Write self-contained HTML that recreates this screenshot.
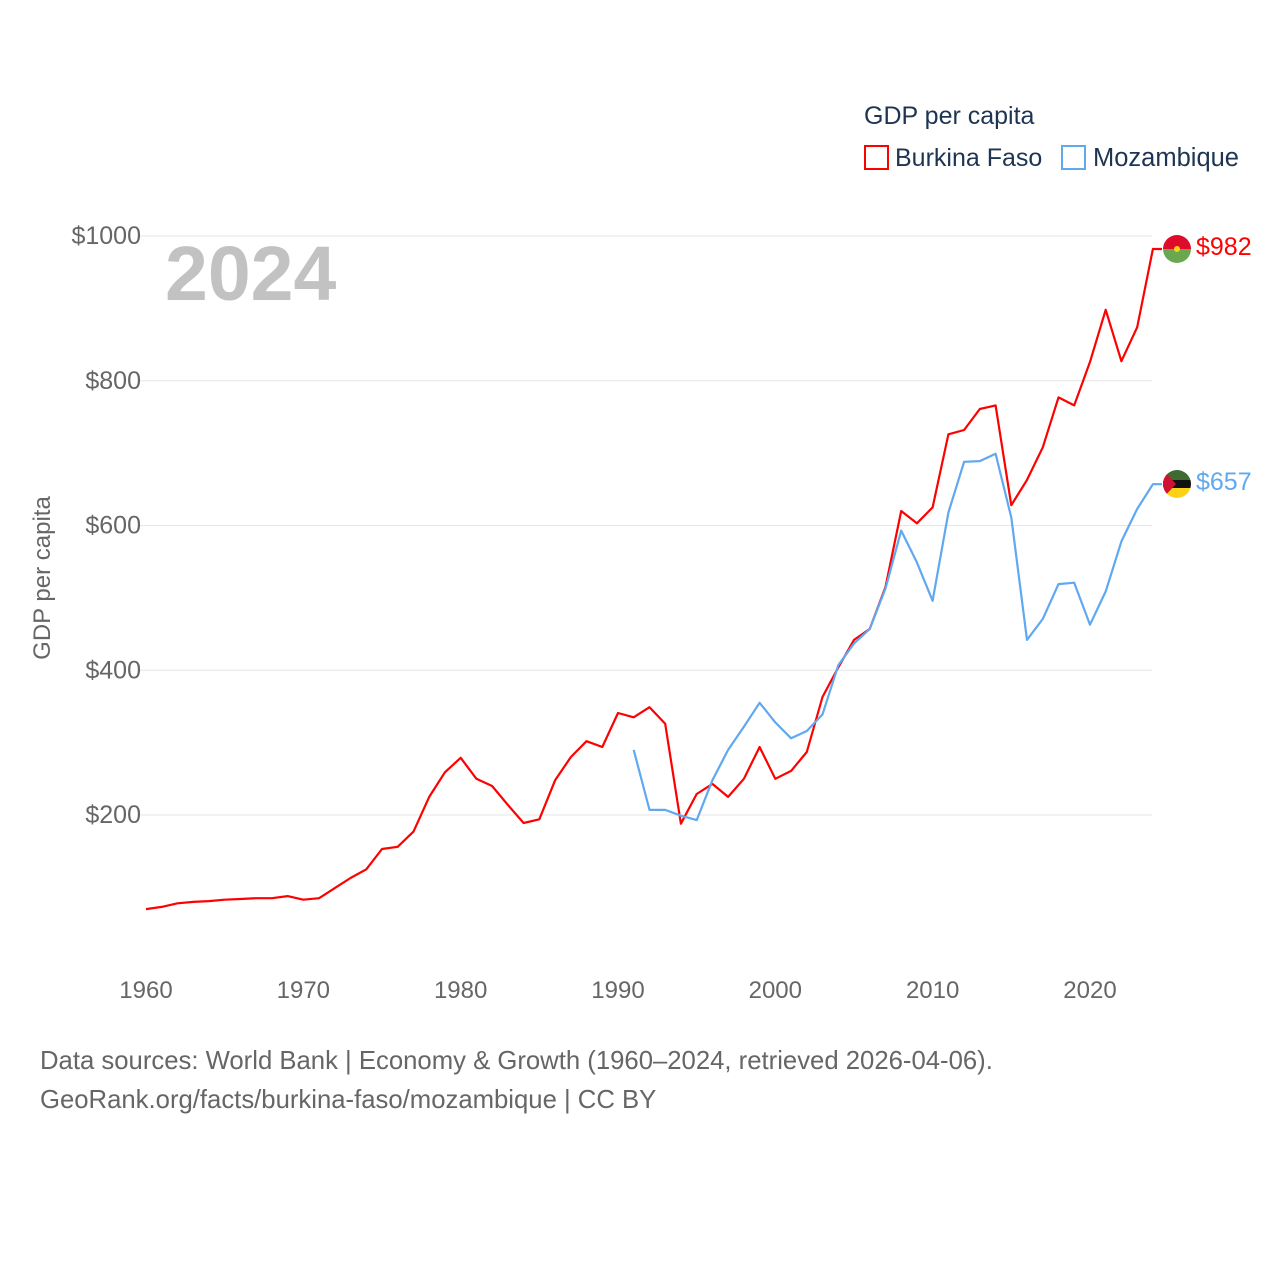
<!DOCTYPE html>
<html><head><meta charset="utf-8"><style>
body{margin:0;background:#fff;width:1280px;height:1280px;overflow:hidden;font-family:"Liberation Sans",sans-serif}
</style></head><body>
<svg id="chart" width="1280" height="1280" xmlns="http://www.w3.org/2000/svg" font-family="Liberation Sans, sans-serif">
<text x="864" y="124" font-size="25" fill="#1d3452">GDP per capita</text>
<g><rect x="865" y="146" width="23" height="23" fill="none" stroke="#ff0000" stroke-width="2"/><text x="895" y="166" font-size="25" fill="#1d3452">Burkina Faso</text></g>
<g><rect x="1062" y="146" width="23" height="23" fill="none" stroke="#60a8ef" stroke-width="2"/><text x="1093" y="166" font-size="25.5" fill="#1d3452">Mozambique</text></g>
<text x="165" y="300" font-size="77" font-weight="bold" fill="#c2c2c2">2024</text>
<g id="grid"></g><g id="yticks"></g><g id="xticks"></g><g id="series"></g>
<text transform="translate(50,578) rotate(-90)" text-anchor="middle" font-size="24" fill="#666">GDP per capita</text>
<text x="40" y="1069" font-size="25.7" fill="#666">Data sources: World Bank | Economy &amp; Growth (1960–2024, retrieved 2026-04-06).</text>
<text x="40" y="1108" font-size="25.7" fill="#666">GeoRank.org/facts/burkina-faso/mozambique | CC BY</text>
<g><clipPath id="c1"><circle cx="1177" cy="249" r="14"/></clipPath><g clip-path="url(#c1)"><rect x="1163" y="235" width="28" height="14" fill="#de0c2a"/><rect x="1163" y="249" width="28" height="14" fill="#6aa84f"/><circle cx="1177" cy="249" r="3" fill="#fcd116"/></g></g>
<text x="1196" y="255" font-size="25" fill="#ff0000">$982</text>
<g><clipPath id="c2"><circle cx="1177" cy="484" r="14"/></clipPath><g clip-path="url(#c2)"><rect x="1163" y="470" width="28" height="10" fill="#3f6b32"/><rect x="1163" y="480" width="28" height="8" fill="#111"/><rect x="1163" y="488" width="28" height="10" fill="#fcd116"/><polygon points="1163,470 1176,484 1163,498" fill="#d21034"/></g></g>
<text x="1196" y="490" font-size="25" fill="#60a8ef">$657</text>
</svg>
<script>
const years=[];for(let y=1960;y<=2024;y++)years.push(y);
const burkinaFaso=[70,73,78,80,81,83,84,85,85,88,83,85,99,113,125,153,156,177,225,259,279,250,240,214,189,194,248,280,302,294,341,335,349,326,188,229,243,225,250,294,250,261,287,363,404,442,457,515,620,603,625,726,732,761,766,628,663,708,777,766,826,898,827,874,982];
const mozYears=[];for(let y=1991;y<=2024;y++)mozYears.push(y);
const mozambique=[290,207,207,199,193,248,290,322,355,328,306,316,339,407,437,457,513,593,549,496,618,688,689,699,611,442,471,519,521,463,509,578,623,657];
const yTicks=[200,400,600,800,1000];
const xTicks=[1960,1970,1980,1990,2000,2010,2020];
const NS="http://www.w3.org/2000/svg";
const xS=y=>146+(y-1960)*15.733;
const yS=v=>959.75-v*0.72375;
function mk(tag,attrs,parent){const e=document.createElementNS(NS,tag);for(const k in attrs)e.setAttribute(k,attrs[k]);document.getElementById(parent).appendChild(e);return e;}
yTicks.forEach(v=>{
 const l=mk('line',{x1:140,x2:1152,y1:yS(v),y2:yS(v),stroke:'#e6e6e6','stroke-width':1},'grid');
 
 
 const t=mk('text',{x:141,y:yS(v)+8,'text-anchor':'end','font-size':25,fill:'#666'},'yticks');
 t.textContent='$'+v;
 
 
});
xTicks.forEach(v=>{
 const t=mk('text',{x:xS(v),y:998,'text-anchor':'middle','font-size':24,fill:'#666'},'xticks');
 t.textContent=v;
 
 
});
function line(xs,vals,color,name){
 let d=xs.map((y,i)=>(i?'L':'M')+xS(y).toFixed(1)+','+yS(vals[i]).toFixed(1)).join(' ');
 d+=' L1162,'+yS(vals[vals.length-1]).toFixed(1);
 const p=mk('path',{d:d,fill:'none',stroke:color,'stroke-width':2.2,'stroke-linejoin':'round'},'series');
 
 
}
line(years,burkinaFaso,'#ff0000','line-burkina-faso');
line(mozYears,mozambique,'#60a8ef','line-mozambique');
</script>
</body></html>
